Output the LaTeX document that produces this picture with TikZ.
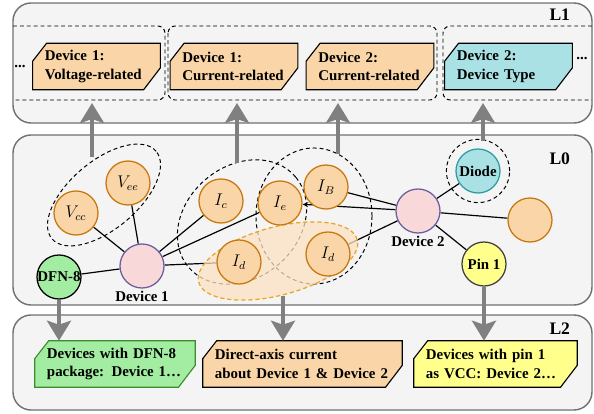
\documentclass[tikz,border=0pt]{standalone}
\usepackage{fontspec}
\setmainfont{Liberation Serif}
\usetikzlibrary{shapes.geometric, arrows.meta, positioning}
\definecolor{panelgray}{HTML}{F4F4F4}
\definecolor{paneledge}{HTML}{707070}
\definecolor{orangeI}{HTML}{F9D5A8}
\definecolor{orangeedge}{HTML}{C7780F}
\definecolor{pinkdev}{HTML}{F8D8D8}
\definecolor{devedge}{HTML}{6A5E9E}
\definecolor{cyanI}{HTML}{A9E1E4}
\definecolor{cyanedge}{HTML}{2E9CA2}
\definecolor{greenI}{HTML}{A2EDA2}
\definecolor{greenedge}{HTML}{3C8C2C}
\definecolor{yellowI}{HTML}{FFFF8C}
\definecolor{arrowgray}{HTML}{808080}
\definecolor{ellfill}{HTML}{FDE1C2}
\definecolor{elledge}{HTML}{E8A62A}

\pgfdeclarelayer{back}
\pgfdeclarelayer{mid}
\pgfsetlayers{back,mid,main}

\tikzset{
  panel/.style={fill=panelgray, draw=paneledge, line width=1pt, rounded corners=0.45cm},
  grp/.style={draw=black, line width=0.7pt, dash pattern=on 2.8pt off 2.1pt},
  ball/.style={circle, minimum size=1.1cm, inner sep=0pt, line width=0.9pt},
  attr/.style={ball, fill=orangeI, draw=orangeedge, font=\fontsize{12}{14}\selectfont},
  dev/.style={ball, fill=pinkdev, draw=devedge},
  tag/.style={minimum height=1.15cm, text width=#1, inner xsep=0.3cm, inner ysep=0pt, align=left},
  link/.style={line width=0.85pt},
  bigarrow/.style={draw=arrowgray, line width=2.8pt, -{Stealth[length=0.5cm, width=0.6cm, inset=0.1cm]}},
  lvl/.style={font=\fontsize{12.5}{14}\selectfont\bfseries, anchor=east},
}

% outline of a tag: cut corners top left and bottom right
\newcommand{\tagshape}[3]{%
  \draw[fill=#2, draw=#3, line width=0.8pt] ([xshift=0.35cm]#1.north west) -- (#1.north east)
    -- ([yshift=0.55cm]#1.south east) -- ([xshift=-0.42cm]#1.south east)
    -- (#1.south west) -- ([yshift=-0.45cm]#1.north west) -- cycle;}

\begin{document}
\begin{tikzpicture}[x=0.025cm, y=-0.025cm, font=\fontsize{10.6}{13.2}\selectfont\bfseries]
\useasboundingbox (0,0) rectangle (594,414);

% L1
\node[tag=2.58cm] (voltD1) at (96.5,66.5) {Device 1:\\Voltage-related};
\node[tag=2.58cm] (currD1) at (234,66.5) {Device 1:\\Current-related};
\node[tag=2.58cm] (currD2) at (370,66.5) {Device 2:\\Current-related};
\node[tag=2.58cm] (typeD2) at (508.5,66.5) {Device 2:\\Device Type};
\node (moreL) at (20,67) {...};
\node (moreR) at (582,59) {...};
\node[lvl] (nameL1) at (575,15) {L1};

% L0
\node[attr] (vcc) at (76,213) {$V_{cc}$};
\node[attr] (vee) at (128,183) {$V_{ee}$};
\node[attr] (ic) at (221,201) {$I_c$};
\node[attr] (ie) at (280,203) {$I_e$};
\node[attr] (ib) at (326,187) {$I_B$};
\node[attr] (idl) at (239,262) {$I_d$};
\node[attr] (idr) at (328,254) {$I_d$};
\node[attr] (other) at (530,220) {};
\node[dev] (dev1) at (142,266) {};
\node[below=-1.5pt of dev1] (dev1name) {Device 1};
\node[dev] (dev2) at (418,211) {};
\node[below=-1.5pt of dev2] (dev2name) {Device 2};
\node[ball, fill=greenI, draw=black] (dfn) at (59,277) {\makebox[0pt]{DFN-8}};
\node[ball, fill=cyanI, draw=cyanedge] (diode) at (478,171) {Diode};
\node[ball, fill=yellowI, draw=darkgray] (pin) at (484,264) {Pin 1};
\node[lvl] (nameL0) at (575,159) {L0};

% L2
\node[tag=3.4cm] (dfnbox) at (115,364) {Devices with DFN-8\\package: Device 1…};
\node[tag=4.375cm] (axisbox) at (302.5,364) {Direct-axis current\\about Device 1 \& Device 2};
\node[tag=3.475cm] (vccbox) at (495.5,364) {Devices with pin 1\\as VCC: Device 2…};
\node[lvl] (nameL2) at (575,329) {L2};

\begin{pgfonlayer}{back}
  \draw[panel] (13,3) rectangle (592,123);
  \draw[panel] (13,135) rectangle (592,305);
  \draw[panel] (13,315) rectangle (592,410);
  \tagshape{voltD1}{orangeI}{black}
  \tagshape{currD1}{orangeI}{black}
  \tagshape{currD2}{orangeI}{black}
  \tagshape{typeD2}{cyanI}{black}
  \tagshape{dfnbox}{greenI}{greenedge}
  \tagshape{axisbox}{orangeI}{black}
  \tagshape{vccbox}{yellowI}{black}
  % groups in L1
  \draw[grp, rounded corners=0.18cm] (13,26) -- (165,26) -- (165,100) -- (13,100);
  \draw[grp, rounded corners=0.18cm] (168,26) rectangle (437,100);
  \draw[grp, rounded corners=0.18cm] (592,26) -- (443,26) -- (443,100) -- (592,100);
  % edges in L0
  \draw[link] (dev1) -- (vcc);
  \draw[link] (dev1) -- (vee);
  \draw[link] (dev1) -- (ic);
  \draw[link] (dev1) -- (ie);
  \draw[link] (dev1) -- (idl);
  \draw[link] (dev1) -- (dfn);
  \draw[link] (dev2) -- (ib);
  \draw[link, -{Stealth[length=4pt, width=3.5pt]}] (dev2) -- (ie);
  \draw[link] (dev2) -- (idr);
  \draw[link] (dev2) -- (diode);
  \draw[link] (dev2) -- (other);
  \draw[link] (dev2) -- (pin);
  % groups in L0
  \node[ellipse, grp, minimum width=3.4cm, minimum height=1.7cm, rotate=40] (vgrp) at (104,195) {};
  \node[ellipse, grp, minimum width=3.5cm, minimum height=2.8cm, rotate=40] (igrp1) at (242,222) {};
  \node[ellipse, grp, minimum width=2.9cm, minimum height=3.4cm] (igrp2) at (314,216) {};
  \node[circle, grp, minimum size=1.58cm] (diodegrp) at (478,171) {};
\end{pgfonlayer}

\begin{pgfonlayer}{mid}
  \node[ellipse, minimum width=4.1cm, minimum height=1.7cm, rotate=15, fill=ellfill, fill opacity=0.75,
    draw=elledge, line width=0.9pt, dash pattern=on 3pt off 2pt] (idgrp) at (278,261) {};
\end{pgfonlayer}

% arrows between layers
\coordinate (vtop) at (92,157);
\coordinate (vhead) at (92,103);
\coordinate (i1top) at (237,163);
\coordinate (i1head) at (237,103);
\coordinate (i2top) at (338,154);
\coordinate (i2head) at (338,103);
\coordinate (dtop) at (483,141);
\coordinate (dhead) at (483,103);
\coordinate (idbot) at (283,296);
\draw[bigarrow] (vtop) -- (vhead);
\draw[bigarrow] (i1top) -- (i1head);
\draw[bigarrow] (i2top) -- (i2head);
\draw[bigarrow] (dtop) -- (dhead);
\draw[bigarrow] (dfn.south) -- (dfn.south |- dfnbox.north);
\draw[bigarrow] (idbot) -- (idbot |- axisbox.north);
\draw[bigarrow] (pin.south) -- (pin.south |- vccbox.north);
\end{tikzpicture}
\end{document}
